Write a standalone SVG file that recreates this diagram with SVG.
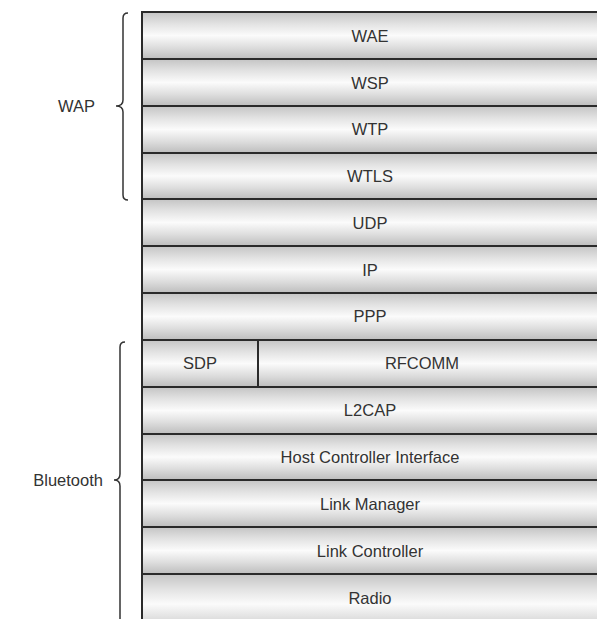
<svg xmlns="http://www.w3.org/2000/svg" width="597" height="619" viewBox="0 0 597 619">
<defs>
<linearGradient id="g" x1="0" y1="0" x2="0" y2="1">
<stop offset="0" stop-color="#c4c4c4"/>
<stop offset="0.25" stop-color="#e2e2e2"/>
<stop offset="0.5" stop-color="#fbfbfb"/>
<stop offset="0.75" stop-color="#dedede"/>
<stop offset="1" stop-color="#bdbdbd"/>
</linearGradient>
</defs>
<style>
.cell{fill:url(#g);stroke:#2a2a2a;stroke-width:2}
.t{font-family:"Liberation Sans",Arial,sans-serif;font-size:16.5px;fill:#333;text-anchor:middle}
.lbl{font-family:"Liberation Sans",Arial,sans-serif;font-size:16.5px;fill:#333;text-anchor:end}
.br{fill:none;stroke:#333;stroke-width:1.5}
</style>
<rect x="0" y="0" width="597" height="619" fill="#fff"/>
<g id="WAE"><rect class="cell" x="142" y="12" width="470" height="47"/><text class="t" x="370" y="42">WAE</text></g>
<g id="WSP"><rect class="cell" x="142" y="59" width="470" height="47"/><text class="t" x="370" y="89">WSP</text></g>
<g id="WTP"><rect class="cell" x="142" y="106" width="470" height="47"/><text class="t" x="370" y="135">WTP</text></g>
<g id="WTLS"><rect class="cell" x="142" y="153" width="470" height="46"/><text class="t" x="370" y="182">WTLS</text></g>
<g id="UDP"><rect class="cell" x="142" y="199" width="470" height="47"/><text class="t" x="370" y="229">UDP</text></g>
<g id="IP"><rect class="cell" x="142" y="246" width="470" height="47"/><text class="t" x="370" y="276">IP</text></g>
<g id="PPP"><rect class="cell" x="142" y="293" width="470" height="47"/><text class="t" x="370" y="322">PPP</text></g>
<g id="SDP"><rect class="cell" x="142" y="340" width="116" height="47"/><text class="t" x="200" y="369">SDP</text></g>
<g id="RFCOMM"><rect class="cell" x="258" y="340" width="354" height="47"/><text class="t" x="422" y="369">RFCOMM</text></g>
<g id="L2CAP"><rect class="cell" x="142" y="387" width="470" height="47"/><text class="t" x="370" y="416">L2CAP</text></g>
<g id="HCI"><rect class="cell" x="142" y="434" width="470" height="46"/><text class="t" x="370" y="463">Host Controller Interface</text></g>
<g id="LM"><rect class="cell" x="142" y="480" width="470" height="47"/><text class="t" x="370" y="510">Link Manager</text></g>
<g id="LC"><rect class="cell" x="142" y="527" width="470" height="47"/><text class="t" x="370" y="557">Link Controller</text></g>
<g id="Radio"><rect class="cell" x="142" y="574" width="470" height="60"/><text class="t" x="370" y="604">Radio</text></g>
<g id="WAP">
<path class="br" d="M128,13 Q123,13 123,18 L123,100 Q123,106 116,106 Q123,106 123,112 L123,195 Q123,200 128,200"/>
<text class="lbl" x="95" y="112">WAP</text>
</g>
<g id="Bluetooth">
<path class="br" d="M125,342 Q120,342 120,347 L120,474 Q120,480 114,480 Q120,480 120,486 L120,619"/>
<text class="lbl" x="103" y="486">Bluetooth</text>
</g>
<g id="connectors"/>
</svg>
